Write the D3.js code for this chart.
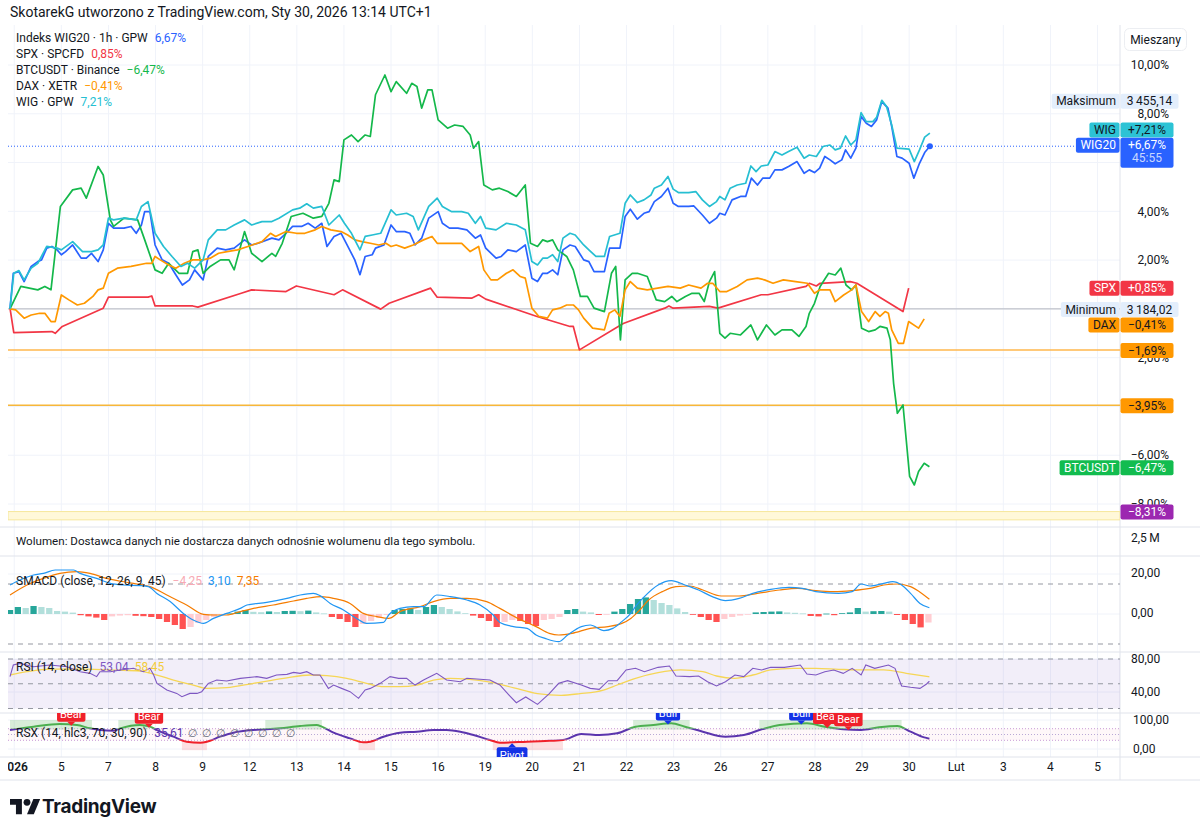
<!DOCTYPE html>
<html lang="pl">
<head>
<meta charset="UTF-8">
<title>WIG20 porównanie</title>
<script src="https://cdn.jsdelivr.net/npm/d3@7/dist/d3.min.js"></script>
<style>
    *{ margin:0; padding:0; }
    body{ background:#fff; width:1200px; height:834px; overflow:hidden; }
    svg{ display:block; font-family:Roboto, "Noto Sans", "DejaVu Sans", sans-serif; }
</style>
</head>
<body>
<script>
// ---- data (t = trading sessions from first bar, v = % change) ----
const dayLabels = ['2026','5','7','8','9','12','13','14','15','16','19','20','21','22','23','26','27','28','29','30','Lut','3','4','5'];

const wig20 = [[0,0],[0.07,1.46],[0.19,1.53],[0.3,1.12],[0.45,1.74],[0.59,1.94],[0.67,2.01],[0.78,2.49],[0.89,2.56],[1.0,2.42],[1.09,2.22],[1.18,2.35],[1.33,2.62],[1.51,2.08],[1.62,2.08],[1.73,2.28],[1.87,1.94],[1.98,2.42],[2.09,3.51],[2.2,3.31],[2.42,3.31],[2.57,3.38],[2.68,3.1],[2.79,3.44],[2.86,3.99],[2.97,3.99],[3.08,2.62],[3.23,2.01],[3.37,1.87],[3.52,1.4],[3.66,0.98],[3.81,1.19],[3.92,1.6],[4.1,1.19],[4.21,2.15],[4.4,2.49],[4.58,2.42],[4.76,2.49],[4.98,2.83],[5.13,2.62],[5.27,2.69],[5.56,2.9],[5.71,2.83],[5.86,3.1],[6.0,3.38],[6.19,3.38],[6.33,3.51],[6.48,3.31],[6.62,3.51],[6.73,2.56],[6.88,2.97],[7.03,3.1],[7.14,2.69],[7.32,2.01],[7.43,1.4],[7.54,2.15],[7.69,2.22],[7.76,2.49],[7.94,2.62],[8.09,3.44],[8.2,3.17],[8.38,3.17],[8.49,3.1],[8.6,2.62],[8.74,2.9],[8.89,3.72],[9.09,3.99],[9.18,3.51],[9.33,3.31],[9.51,3.31],[9.7,3.24],[9.88,2.9],[9.99,3.03],[10.1,2.49],[10.32,2.08],[10.43,2.15],[10.57,2.42],[10.75,2.35],[10.94,2.62],[11.08,1.26],[11.2,1.12],[11.31,1.46],[11.41,1.46],[11.52,1.6],[11.63,1.4],[11.74,2.42],[11.89,2.62],[12.0,2.56],[12.18,2.01],[12.29,1.94],[12.4,1.53],[12.62,1.53],[12.73,2.49],[12.95,2.49],[13.06,3.79],[13.17,4.09],[13.32,3.68],[13.46,3.92],[13.57,3.99],[13.68,4.4],[13.83,4.61],[13.97,4.95],[14.08,4.33],[14.19,4.2],[14.41,4.2],[14.52,4.22],[14.7,3.85],[14.85,3.51],[15.0,3.72],[15.07,3.92],[15.18,3.85],[15.33,4.47],[15.51,4.61],[15.62,4.61],[15.74,5.36],[15.87,5.08],[15.98,5.36],[16.13,5.36],[16.24,5.7],[16.39,5.7],[16.53,5.84],[16.71,6.04],[16.86,5.56],[16.97,5.7],[17.08,5.59],[17.19,5.77],[17.3,6.25],[17.41,6.11],[17.52,5.95],[17.66,6.11],[17.74,6.52],[17.85,6.18],[17.96,6.59],[18.07,7.89],[18.18,7.61],[18.29,7.48],[18.4,7.75],[18.51,8.5],[18.64,8.23],[18.72,7.48],[18.83,6.25],[18.94,6.18],[19.09,5.97],[19.19,5.36],[19.31,5.97],[19.42,6.41],[19.53,6.67]];

const wig = [[0,0],[0.08,1.46],[0.19,1.57],[0.3,1.19],[0.45,1.67],[0.59,1.87],[0.78,2.56],[1.0,2.49],[1.09,2.42],[1.33,2.76],[1.54,2.35],[1.73,2.35],[1.87,2.42],[1.98,2.62],[2.09,3.72],[2.2,3.65],[2.42,3.72],[2.68,3.65],[2.79,4.2],[2.93,4.4],[3.08,3.1],[3.26,2.56],[3.44,2.15],[3.63,1.74],[3.77,1.87],[3.92,1.67],[4.1,2.01],[4.21,2.83],[4.4,3.24],[4.58,3.24],[4.76,3.44],[4.98,3.65],[5.13,3.44],[5.35,3.58],[5.56,3.58],[5.71,3.72],[6.0,4.06],[6.15,4.13],[6.3,4.31],[6.44,4.13],[6.62,4.2],[6.77,3.44],[6.99,3.85],[7.1,3.51],[7.25,3.1],[7.43,2.42],[7.54,2.97],[7.69,3.03],[7.87,3.1],[8.09,4.06],[8.2,3.85],[8.42,3.92],[8.56,3.79],[8.67,3.24],[8.89,4.2],[9.07,4.54],[9.18,4.2],[9.37,3.99],[9.59,3.99],[9.73,3.92],[9.88,3.51],[9.99,3.79],[10.1,3.31],[10.32,3.24],[10.54,3.51],[10.75,3.44],[10.94,3.24],[11.08,1.94],[11.2,1.8],[11.31,2.08],[11.41,2.08],[11.52,2.22],[11.63,1.94],[11.74,2.9],[11.89,3.1],[12.0,3.03],[12.18,2.62],[12.29,2.42],[12.44,2.15],[12.62,2.15],[12.73,2.97],[12.95,3.1],[13.06,4.33],[13.17,4.67],[13.32,4.36],[13.46,4.47],[13.61,4.67],[13.68,4.95],[13.83,5.08],[13.97,5.43],[14.08,4.91],[14.19,4.77],[14.41,4.77],[14.56,4.81],[14.7,4.47],[14.85,4.2],[15.0,4.4],[15.07,4.61],[15.18,4.47],[15.29,4.95],[15.44,5.08],[15.62,5.15],[15.73,5.86],[15.84,5.63],[15.95,5.86],[16.09,5.9],[16.24,6.45],[16.39,6.31],[16.53,6.45],[16.71,6.63],[16.86,6.18],[16.97,6.31],[17.12,6.25],[17.26,6.66],[17.41,6.72],[17.52,6.52],[17.63,6.59],[17.74,7.09],[17.85,6.72],[17.96,6.93],[18.07,8.05],[18.18,7.68],[18.32,7.68],[18.4,7.86],[18.51,8.55],[18.61,8.3],[18.72,7.54],[18.83,6.59],[19.09,6.55],[19.2,6.04],[19.31,6.52],[19.42,7.04],[19.53,7.21]];

const btc = [[0,0],[0.23,0.92],[0.59,0.78],[0.74,0.92],[0.87,0.78],[1.07,4.2],[1.33,4.88],[1.51,4.95],[1.62,4.54],[1.87,5.84],[1.98,5.49],[2.13,3.65],[2.2,3.38],[2.42,3.72],[2.71,3.65],[2.86,2.83],[3.08,1.6],[3.23,1.46],[3.37,1.87],[3.59,1.46],[3.77,1.46],[3.88,2.35],[3.99,2.42],[4.1,1.46],[4.25,1.74],[4.47,2.01],[4.65,2.01],[4.76,1.6],[4.98,3.17],[5.13,2.28],[5.35,1.94],[5.56,2.28],[5.64,2.15],[5.78,2.69],[5.97,3.79],[6.22,3.92],[6.44,3.72],[6.62,3.79],[6.77,4.33],[6.88,5.29],[6.99,5.22],[7.09,6.93],[7.25,7.13],[7.39,6.86],[7.54,7.13],[7.65,7.07],[7.76,8.78],[7.96,9.59],[8.09,8.91],[8.2,9.32],[8.42,8.84],[8.53,9.25],[8.64,9.12],[8.74,8.23],[8.87,8.98],[8.96,8.98],[9.09,7.75],[9.29,7.41],[9.44,7.54],[9.62,7.48],[9.77,7.13],[9.84,6.59],[9.95,6.86],[10.06,5.08],[10.24,4.88],[10.39,4.95],[10.57,4.81],[10.75,4.61],[10.94,5.08],[11.05,2.69],[11.2,2.56],[11.31,2.83],[11.41,2.76],[11.52,2.83],[11.63,2.42],[11.82,2.15],[11.96,1.6],[12.11,0.51],[12.26,0.51],[12.4,0.03],[12.62,-0.11],[12.77,1.46],[12.86,1.74],[12.96,-1.27],[13.06,1.19],[13.21,1.46],[13.32,1.46],[13.53,1.33],[13.72,0.37],[13.9,0.3],[14.05,0.51],[14.16,0.3],[14.34,0.51],[14.48,0.64],[14.63,0.64],[14.74,0.3],[14.85,1.12],[14.96,1.53],[15.07,-1.0],[15.18,-1.2],[15.29,-1.0],[15.51,-1.07],[15.73,-0.66],[15.87,-1.27],[16.06,-0.66],[16.24,-1.07],[16.39,-0.86],[16.6,-0.86],[16.75,-1.13],[16.9,-0.72],[16.97,-0.18],[17.08,0.23],[17.2,0.92],[17.38,1.46],[17.52,1.39],[17.64,1.67],[17.75,0.98],[17.87,0.78],[17.96,0.98],[18.08,-0.79],[18.23,-0.93],[18.37,-0.86],[18.47,-0.72],[18.62,-0.79],[18.69,-1.27],[18.76,-3.05],[18.84,-4.28],[18.96,-3.94],[19.1,-6.87],[19.2,-7.22],[19.29,-6.67],[19.41,-6.33],[19.52,-6.47]];

const dax = [[0,0],[0.12,-0.04],[0.3,-0.38],[0.45,-0.25],[0.63,-0.18],[0.74,-0.18],[0.87,-0.52],[0.96,-0.52],[1.09,0.57],[1.25,0.37],[1.43,0.16],[1.58,0.23],[1.76,0.51],[1.87,0.78],[1.98,0.85],[2.09,1.46],[2.28,1.67],[2.57,1.74],[2.9,1.87],[3.01,1.87],[3.08,2.15],[3.19,2.01],[3.37,1.8],[3.52,1.67],[3.7,1.87],[3.88,2.01],[4.1,2.01],[4.25,2.08],[4.43,2.28],[4.61,2.35],[4.83,2.42],[5.05,2.56],[5.35,2.76],[5.53,3.1],[5.64,2.97],[5.86,3.17],[6.08,3.1],[6.26,3.1],[6.48,3.24],[6.62,3.38],[6.81,3.24],[7.03,3.17],[7.17,3.03],[7.32,2.83],[7.47,2.76],[7.65,2.69],[7.83,2.62],[7.98,2.69],[8.09,2.56],[8.2,2.62],[8.38,2.49],[8.56,2.62],[8.78,2.83],[8.96,2.97],[9.07,2.69],[9.59,2.69],[9.77,2.35],[9.95,2.56],[10.06,1.6],[10.21,1.19],[10.35,1.19],[10.54,1.46],[10.68,1.6],[10.83,1.33],[10.94,1.26],[11.08,0.03],[11.23,-0.31],[11.41,-0.38],[11.52,-0.04],[11.67,0.03],[11.82,0.16],[11.96,0.16],[12.07,-0.04],[12.18,-0.38],[12.37,-0.79],[12.62,-0.86],[12.72,-0.18],[12.84,-0.04],[12.95,-0.31],[13.06,0.78],[13.17,1.12],[13.32,0.85],[13.53,0.78],[13.97,0.92],[14.23,0.85],[14.41,0.98],[14.67,0.85],[14.81,1.05],[14.92,1.05],[15.07,0.71],[15.22,0.71],[15.44,0.92],[15.65,1.19],[15.87,1.26],[16.02,1.19],[16.2,1.05],[16.42,1.19],[16.68,1.12],[16.93,1.05],[17.08,0.64],[17.19,0.78],[17.41,0.78],[17.52,0.3],[17.7,0.57],[17.87,0.78],[17.96,0.98],[18.08,-0.11],[18.23,-0.52],[18.37,-0.11],[18.47,-0.31],[18.58,-0.11],[18.65,-0.18],[18.72,-0.86],[18.86,-1.41],[18.97,-1.41],[19.08,-0.52],[19.29,-0.79],[19.41,-0.41]];

const spx = [[0,0.03],[0.08,-0.97],[0.89,-0.93],[0.96,-1.0],[1.11,-0.72],[1.98,0.03],[2.09,0.48],[2.93,0.48],[3.01,0.53],[3.08,0.12],[3.88,0.12],[3.99,0.07],[4.91,0.64],[5.13,0.78],[5.86,0.71],[6.08,0.94],[6.88,0.58],[7.06,0.78],[7.87,-0.01],[8.05,0.23],[8.93,0.85],[9.07,0.48],[9.8,0.44],[9.95,0.58],[10.1,0.4],[11.19,-0.31],[11.89,-0.72],[11.96,-0.72],[12.09,-1.68],[13.02,-0.6],[13.9,0.03],[13.99,0.12],[14.08,0.03],[14.85,0.1],[15.03,0.03],[15.95,0.58],[16.09,0.58],[16.9,0.92],[16.97,1.05],[17.12,0.94],[17.2,1.05],[17.84,1.12],[17.98,1.05],[18.96,-0.11],[19.08,0.85]];

const lastValues = { WIG20: 6.67, SPX: 0.85, BTCUSDT: -6.47, DAX: -0.41, WIG: 7.21 };
const priceMax = 3455.14, priceMin = 3184.02, priceBase = 3184.02;
const levelValues = [-1.69, -3.95];
const bandRange = [-8.31, -8.65];
const countdown = '45:55';

// SMACD (close, 12, 26, 9, 45)
const macdLine = [[0,14.5],[0.21,17],[0.5,19.5],[0.71,20.3],[0.96,22],[1.35,22],[1.49,20.3],[1.84,17.8],[2.13,15.3],[2.41,14.5],[2.76,14.2],[2.94,13.7],[3.12,10.3],[3.4,6.2],[3.68,0.3],[3.89,-3],[4.11,-4.7],[4.32,-2.2],[4.6,0.3],[4.89,2.8],[5.03,4.5],[5.45,5.8],[5.88,7.8],[6.16,9.5],[6.44,10.3],[6.58,9.2],[6.8,5.3],[7.08,2],[7.36,-2.2],[7.57,-4.7],[7.93,-4.2],[8.04,-0.5],[8.28,2.8],[8.57,3.7],[8.78,3.7],[9.06,9.5],[9.35,8.7],[9.7,7],[9.98,4.5],[10.26,-0.5],[10.4,-4.2],[10.69,-6.3],[10.98,-7.2],[11.17,-10.5],[11.36,-12.2],[11.65,-13.8],[11.84,-10.5],[12.13,-6.3],[12.32,-5.5],[12.61,-8.3],[12.8,-7.2],[12.99,-3.8],[13.18,0.3],[13.28,3.7],[13.47,8.7],[13.76,14.5],[14.04,16.7],[14.33,14.5],[14.62,12],[14.91,8.7],[15.19,6.7],[15.48,7.8],[15.77,10.3],[16.15,12.3],[16.54,13.3],[16.82,12.8],[17.11,11.2],[17.59,10.3],[17.88,11.2],[18.07,15],[18.26,14],[18.55,15.3],[18.74,16.2],[18.93,14.5],[19.12,10.3],[19.32,5.3],[19.52,3.1]];
const signalLine = [[0,9.5],[0.36,14.5],[0.71,17.8],[1.06,20.3],[1.42,21.2],[1.7,20.3],[2.05,17.8],[2.62,15.3],[2.97,13.7],[3.33,9.5],[3.75,4.5],[4.11,-0.2],[4.32,-0.5],[4.6,-0.5],[4.89,1.2],[5.17,2.8],[5.59,4.5],[6.02,6.5],[6.3,7.8],[6.62,8.7],[6.87,7.8],[7.22,5.3],[7.5,0.3],[7.79,-1.3],[8.04,-2.2],[8.28,1.2],[8.71,3.7],[8.99,6.2],[9.35,7.8],[9.7,7.8],[10.12,6.2],[10.4,2.8],[10.78,-2.2],[11.17,-6.3],[11.45,-9.7],[11.65,-10.5],[11.93,-9.7],[12.32,-7.2],[12.7,-6.3],[12.99,-4.7],[13.18,-2.2],[13.37,2],[13.56,7],[13.85,11.2],[14.14,13.7],[14.43,14],[14.71,12],[15.1,9],[15.48,9],[15.87,10.3],[16.34,12],[16.73,12.8],[17.11,11.7],[17.49,11.2],[17.88,11.7],[18.26,12.8],[18.55,14.5],[18.84,15],[19.12,13.7],[19.36,10.3],[19.52,7.35]];
// histogram, six bars per session
const histValues = [
  2,3.5,3,4,3.5,3,  1.5,1.2,0.7,-0.6,-1.2,-1.8,  -3,-1.2,-0.8,-0.6,-0.9,-1.1,  -1.5,-2.5,-4,-5.5,-7.5,-6.5,
  -4.5,-3,-1.5,-0.4,0.3,1.2,  2,1.1,0.9,1.3,1,1.5,  1.6,1.4,1.7,0.8,0.3,-1.5,  -2.5,-4,-6.5,-5,-3.5,-2,
  -0.5,2,2.5,2.8,2,3.5,  4.5,3.5,2.5,1.3,0.4,-0.8,  -2,-3.5,-6.5,-4,-3,-3.5,  -5,-6,-3,-2.5,-1.5,2,
  2.5,1.2,0.8,-0.5,-0.3,1.2,  2.5,5,7.5,8.3,7,5.5,  4.5,2.8,1,-0.3,-1.5,-3,  -4,-2.5,-1.5,-0.8,-0.3,0.8,
  1,1.2,1.3,0.8,0.6,0.3,  -1,-1.2,0.2,-0.6,0.4,0.8,  3,1.2,1.4,1.5,1.2,-0.5,  -3,-5,-6.7,-4.25
];
const histPerDay = 6;
const smacdLevels = [15, -15];
const smacdLast = { hist: -4.25, macd: 3.10, signal: 7.35 };

// RSI (14, close)
const rsiLine = [[0,58.6],[0.07,72.7],[0.21,74.7],[0.5,70.7],[0.85,72.7],[1.21,70.7],[1.49,64.6],[1.7,62.6],[1.84,58.6],[1.91,64.6],[2.13,64.6],[2.34,66.6],[2.62,68.7],[2.83,64.6],[2.97,68.7],[3.05,60.6],[3.12,50.5],[3.33,42.4],[3.54,38.3],[3.65,34.3],[3.82,38.3],[3.97,38.3],[4.07,40.4],[4.21,50.5],[4.39,54.5],[4.6,53.3],[4.89,56.5],[5.24,58.6],[5.45,56.5],[5.66,60.6],[5.88,61.4],[6.02,63.8],[6.16,62.6],[6.3,64.6],[6.44,60.6],[6.58,60.6],[6.76,44.4],[6.87,48.4],[7.04,44.4],[7.22,40.4],[7.4,32.3],[7.54,42.4],[7.65,44.4],[7.86,50.5],[8.07,58.6],[8.25,56.5],[8.42,56.5],[8.6,48.4],[8.78,54.5],[8.99,60.6],[9.06,62.6],[9.27,54.5],[9.56,52.5],[9.7,56.6],[10.19,54.5],[10.4,48.5],[10.6,36],[10.75,27],[10.95,34],[11.2,25],[11.45,38],[11.65,50.5],[11.84,53.7],[12.13,48.5],[12.32,44.4],[12.51,43.2],[12.7,53.7],[12.89,53.7],[13.08,66.7],[13.28,68.7],[13.47,64.6],[13.76,69.9],[14.0,71.5],[14.14,59.4],[14.43,58.6],[14.62,59.4],[14.81,52.5],[15.0,47.3],[15.19,52.5],[15.39,60.6],[15.58,58.6],[15.77,68.7],[15.96,66.7],[16.15,69.9],[16.44,69.9],[16.78,72.7],[16.92,61.8],[17.11,60.6],[17.3,64.6],[17.49,66.7],[17.69,62.6],[17.88,68.7],[18.07,60.6],[18.17,72.7],[18.36,68.7],[18.65,72.7],[18.79,68.7],[18.93,47.3],[19.12,45.7],[19.32,44.4],[19.46,49.7],[19.52,53.04]];
const rsiMa = [[0,60.6],[0.36,64.6],[0.85,67.8],[1.56,67.8],[2.27,66.6],[2.76,65.4],[3.12,60.6],[3.47,54.5],[3.89,48.4],[4.18,44.4],[4.6,45.2],[5.17,50.5],[5.81,56.5],[6.37,60.6],[6.73,59.8],[7.15,56.5],[7.57,50.5],[7.93,46.4],[8.28,46.4],[8.64,48.4],[8.99,54.5],[9.34,56.5],[9.7,55.7],[10.2,52],[10.7,45],[11.2,38],[11.7,36],[12.1,38],[12.6,42.4],[12.89,48.5],[13.28,56.6],[13.76,63.4],[14.24,66.7],[14.71,64.6],[15.0,59.4],[15.39,56.6],[15.77,60.6],[16.15,66.7],[16.63,68.7],[17.11,68.7],[17.59,67.5],[18.07,66.7],[18.55,66.7],[19.03,62.6],[19.52,58.45]];
const rsiLevels = [80, 50, 20];
const rsiLast = { rsi: 53.04, ma: 58.45 };

// RSX (14, hlc3, 70, 30, 90)
const rsxLine = [[0,65.5],[0.5,77],[1.06,86.2],[1.42,82.7],[1.7,71.2],[1.91,65.5],[2.2,63.2],[2.34,71.2],[2.76,82.7],[2.97,77],[3.19,59.7],[3.47,42.5],[3.75,25.2],[4.04,21.8],[4.18,25.2],[4.46,42.5],[4.74,56.3],[5.17,65.5],[5.45,67.8],[5.73,71.2],[6.16,79.3],[6.51,82.7],[6.62,77],[6.87,56.3],[7.22,36.7],[7.5,23],[7.65,25.2],[7.93,42.5],[8.28,56.3],[8.64,59.7],[8.99,65.5],[9.27,65.5],[9.56,59.7],[9.84,48.2],[10.19,31],[10.4,21.8],[10.98,25.2],[11.36,27.5],[11.74,31],[12.13,51.7],[12.51,48.2],[12.89,54],[13.28,77],[13.66,82.7],[14.04,88.5],[14.33,77],[14.71,59.7],[15.19,42.5],[15.58,48.2],[15.96,67.8],[16.34,82.7],[16.92,88.5],[17.3,77],[17.69,67.8],[18.07,65.5],[18.45,74.7],[18.84,79.3],[19.12,59.7],[19.41,40],[19.52,35.61]];
const rsxLevels = [70, 50, 30];
const rsxUpZones = [[0,1.74],[2.30,2.94],[5.42,6.62],[13.23,14.43],[15.91,18.93]];
const rsxDownZones = [[3.65,4.18],[7.4,7.75],[10.25,11.74]];
const rsxSignals = [
  { t:1.30, v:84, text:'Bear', side:'top' },
  { t:2.95, v:77, text:'Bear', side:'top' },
  { t:10.66, v:23, text:'Pivot', side:'bottom' },
  { t:13.97, v:88, text:'Bull', side:'top' },
  { t:16.80, v:88, text:'Bull', side:'top' },
  { t:17.35, v:76, text:'Bear', side:'top' },
  { t:17.80, v:68, text:'Bear', side:'top' }
];
const rsxLast = 35.61;
const naCount = 8;

// ---- layout ----
const W = 1200, H = 834;
const plotL = 8, plotR = 1120;
const pane = { main:[25,527], vol:[527,556], smacd:[556,652], rsi:[652,713], rsx:[713,757], axis:[757,780] };
const tickShift = 0.09;
const ink = '#131722';

const svg = d3.select('body').append('svg').attr('width', W).attr('height', H);
const defs = svg.append('defs');

const x = d3.scaleLinear().domain([0, 1]).range([10, 57.1]);
const yMain = d3.scaleLinear().domain([10, -8]).range([65, 504]);
const ySm = d3.scaleLinear().domain([20, 0]).range([574, 614]);
const yRsi = d3.scaleLinear().domain([80, 40]).range([659, 692]);
const yRsx = d3.scaleLinear().domain([100, 0]).range([720, 749]);

function clip(id, x0, y0, x1, y1) {
    defs.append('clipPath').attr('id', id).append('rect')
        .attr('x', x0).attr('y', y0).attr('width', x1 - x0).attr('height', y1 - y0);
    return 'url(#' + id + ')';
}
function fmtNum(v) { return Math.abs(v).toFixed(2).replace('.', ','); }
function fmtPct(v, plus) { return (v < 0 ? '\u2212' : (plus && v > 0 ? '+' : '')) + fmtNum(v) + '%'; }
function fmtVal(v) { return (v < 0 ? '\u2212' : '') + fmtNum(v); }
function fmtPrice(v) {
    let p = v.toFixed(2).split('.');
    return p[0].replace(/\B(?=(\d{3})+(?!\d))/g, '\u2009') + ',' + p[1];
}
function pctOf(price) { return (price / priceBase - 1) * 100; }

// ---- grid and pane frames ----
const grid = svg.append('g');
const dayTicks = d3.range(dayLabels.length).map(k => k + tickShift);
grid.selectAll('line.v').data(dayTicks).enter().append('line')
    .attr('x1', d => x(d)).attr('x2', d => x(d))
    .attr('y1', pane.main[0]).attr('y2', pane.rsx[1])
    .attr('stroke', '#f0f3fa');
grid.selectAll('line.h').data(d3.range(-8, 10.01, 2)).enter().append('line')
    .attr('x1', plotL).attr('x2', plotR)
    .attr('y1', d => yMain(d)).attr('y2', d => yMain(d))
    .attr('stroke', '#f0f3fa');
[ySm(20), ySm(0), yRsi(80), yRsi(40), yRsx(100), yRsx(0)].forEach(yy => {
    grid.append('line').attr('x1', plotL).attr('x2', plotR).attr('y1', yy).attr('y2', yy).attr('stroke', '#f0f3fa');
});

const frame = svg.append('g').attr('stroke', '#e0e3eb');
[pane.main[1], pane.vol[1], pane.smacd[1], pane.rsi[1], pane.rsx[1], pane.axis[1]].forEach(yy => {
    frame.append('line').attr('x1', 0).attr('x2', W).attr('y1', yy).attr('y2', yy);
});
frame.append('line').attr('x1', plotR).attr('x2', plotR).attr('y1', pane.main[0]).attr('y2', pane.axis[1]);

// ---- main pane ----
const gMain = svg.append('g').attr('clip-path', clip('cMain', plotL, pane.main[0], plotR, pane.main[1]));

gMain.append('rect')
    .attr('x', plotL).attr('width', plotR - plotL)
    .attr('y', yMain(bandRange[0])).attr('height', yMain(bandRange[1]) - yMain(bandRange[0]))
    .attr('fill', '#fff8d9').attr('stroke', '#f6e79c').attr('stroke-width', 1);

const levelColors = ['#ffb74d', '#f7b73a'];
levelValues.forEach((v, i) => {
    gMain.append('line').attr('x1', plotL).attr('x2', plotR)
        .attr('y1', yMain(v)).attr('y2', yMain(v))
        .attr('stroke', levelColors[i]).attr('stroke-width', 1.5);
});
gMain.append('line').attr('x1', plotL).attr('x2', plotR)
    .attr('y1', yMain(pctOf(priceMin))).attr('y2', yMain(pctOf(priceMin)))
    .attr('stroke', '#b2b5be').attr('stroke-width', 1);
gMain.append('line').attr('x1', plotL).attr('x2', plotR)
    .attr('y1', yMain(lastValues.WIG20)).attr('y2', yMain(lastValues.WIG20))
    .attr('stroke', '#2962ff').attr('stroke-width', 1).attr('stroke-dasharray', '1,2');

const series = [
    { name:'WIG20', data:wig20, color:'#2962ff' },
    { name:'SPX', data:spx, color:'#f23645' },
    { name:'BTCUSDT', data:btc, color:'#14b84b' },
    { name:'DAX', data:dax, color:'#ff9800' },
    { name:'WIG', data:wig, color:'#26bfd2' }
];
const mainLine = d3.line().x(d => x(d[0])).y(d => yMain(d[1]));
series.forEach(s => {
    gMain.append('path').attr('d', mainLine(s.data))
        .attr('fill', 'none').attr('stroke', s.color).attr('stroke-width', 1.7)
        .attr('stroke-linejoin', 'round');
});
let w20end = wig20[wig20.length - 1];
gMain.append('circle').attr('cx', x(w20end[0])).attr('cy', yMain(w20end[1])).attr('r', 3).attr('fill', '#2962ff');

// header + legend
svg.append('text').attr('x', 10).attr('y', 17).attr('font-size', 14).attr('fill', ink)
    .text('SkotarekG utworzono z TradingView.com, Sty 30, 2026 13:14 UTC+1');

const legendRows = [
    { label:'Indeks WIG20 \u00b7 1h \u00b7 GPW', v:lastValues.WIG20, color:'#2962ff' },
    { label:'SPX \u00b7 SPCFD', v:lastValues.SPX, color:'#f23645' },
    { label:'BTCUSDT \u00b7 Binance', v:lastValues.BTCUSDT, color:'#14b84b' },
    { label:'DAX \u00b7 XETR', v:lastValues.DAX, color:'#ff9800' },
    { label:'WIG \u00b7 GPW', v:lastValues.WIG, color:'#26bfd2' }
];
legendRows.forEach((r, i) => {
    let t = svg.append('text').attr('x', 16).attr('y', 42 + i * 16).attr('font-size', 12).attr('fill', ink);
    t.append('tspan').text(r.label);
    t.append('tspan').attr('dx', 7).attr('fill', r.color).text(fmtPct(r.v));
});

// ---- price boxes on the right axis ----
const boxes = [
    { name:'Maksimum', text:fmtPrice(priceMax), v:pctOf(priceMax), dy:0, bg:'#e3eefc', fg:ink, valW:58 },
    { name:'WIG', text:fmtPct(lastValues.WIG, true), v:lastValues.WIG, dy:-3, bg:'#2cc3d5', fg:ink },
    { name:'WIG20', text:fmtPct(lastValues.WIG20, true), sub:countdown, v:lastValues.WIG20, dy:-1, bg:'#2962ff', fg:'#fff' },
    { name:'SPX', text:fmtPct(lastValues.SPX, true), v:lastValues.SPX, dy:0, bg:'#f23645', fg:'#fff' },
    { name:'Minimum', text:fmtPrice(priceMin), v:pctOf(priceMin), dy:0.5, bg:'#e3eefc', fg:ink, valW:58 },
    { name:'DAX', text:fmtPct(lastValues.DAX, true), v:lastValues.DAX, dy:6, bg:'#ff9800', fg:ink },
    { name:null, text:fmtPct(levelValues[0]), v:levelValues[0], dy:0.5, bg:'#ff9800', fg:ink },
    { name:null, text:fmtPct(levelValues[1]), v:levelValues[1], dy:0.5, bg:'#ff9800', fg:ink },
    { name:'BTCUSDT', text:fmtPct(lastValues.BTCUSDT, true), v:lastValues.BTCUSDT, dy:1, bg:'#12bc4f', fg:'#fff' },
    { name:null, text:fmtPct(bandRange[0]), v:bandRange[0], dy:0.5, bg:'#9c27b0', fg:'#fff' }
];
boxes.forEach(b => {
    b.yc = yMain(b.v) + b.dy;
    b.top = b.yc - 7.5;
    b.bottom = b.top + (b.sub ? 30 : 15);
});

// main price axis (labels sitting under a box are hidden, like TradingView does)
const axisG = svg.append('g').attr('font-size', 12).attr('fill', ink);
const mainTicks = d3.range(-8, 10.01, 2).filter(v => {
    let yy = yMain(v);
    return !boxes.some(b => yy >= b.top && yy <= b.bottom - 2);
});
axisG.selectAll('text.m').data(mainTicks).enter().append('text')
    .attr('x', 1169).attr('y', d => yMain(d)).attr('dy', '0.35em').attr('text-anchor', 'end')
    .text(d => fmtPct(d));

const modeBox = svg.append('g');
modeBox.append('rect').attr('x', 1124.5).attr('y', 28.5).attr('width', 62).attr('height', 22).attr('rx', 5)
    .attr('fill', '#fff').attr('stroke', '#eceef2');
modeBox.append('text').attr('x', 1155.5).attr('y', 39.5).attr('dy', '0.35em').attr('text-anchor', 'middle')
    .attr('font-size', 12).attr('fill', ink).text('Mieszany');

const boxG = svg.append('g').attr('font-size', 12);
boxes.forEach(b => {
    let yc = b.yc;
    let vw = b.valW || 53;
    boxG.append('rect').attr('x', plotR + 0.5).attr('y', b.top).attr('width', vw).attr('height', b.bottom - b.top)
        .attr('rx', 2).attr('fill', b.bg);
    boxG.append('text').attr('x', plotR + 0.5 + vw / 2).attr('y', yc).attr('dy', '0.35em')
        .attr('text-anchor', 'middle').attr('fill', b.fg).text(b.text);
    if (b.sub) {
        boxG.append('text').attr('x', plotR + 0.5 + vw / 2).attr('y', yc + 13).attr('dy', '0.35em')
            .attr('text-anchor', 'middle').attr('fill', 'rgba(255,255,255,0.75)').text(b.sub);
    }
    if (b.name) {
        let t = boxG.append('text').attr('y', yc).attr('dy', '0.35em').attr('text-anchor', 'end')
            .attr('x', plotR - 4).attr('fill', b.fg).text(b.name);
        let tw = t.node().getComputedTextLength();
        boxG.insert('rect', function () { return t.node(); })
            .attr('x', plotR - tw - 8.5).attr('y', yc - 7.5).attr('width', tw + 8).attr('height', 15)
            .attr('rx', 2).attr('fill', b.bg);
    }
});

// ---- volume pane ----
svg.append('text').attr('x', 16).attr('y', 545).attr('font-size', 11.6).attr('fill', ink)
    .text('Wolumen: Dostawca danych nie dostarcza danych odno\u015bnie wolumenu dla tego symbolu.');
svg.append('text').attr('x', 1131).attr('y', 538).attr('dy', '0.35em').attr('font-size', 12).attr('fill', ink).text('2,5\u2009M');

// ---- SMACD pane ----
const gSm = svg.append('g').attr('clip-path', clip('cSm', plotL, pane.smacd[0], plotR, pane.smacd[1]));
smacdLevels.forEach(v => {
    gSm.append('line').attr('x1', plotL).attr('x2', plotR).attr('y1', ySm(v)).attr('y2', ySm(v))
        .attr('stroke', '#9598a1').attr('stroke-dasharray', '5,5');
});
function histColor(v, i) {
    let prev = i > 0 ? histValues[i - 1] : v;
    if (v >= 0) return v >= prev ? '#26a69a' : '#b2dfdb';
    return v <= prev ? '#ff5252' : '#ffcdd2';
}
let barW = (x(1) - x(0)) / histPerDay - 1.6;
gSm.selectAll('rect.h').data(histValues).enter().append('rect')
    .attr('x', (d, i) => x(i / histPerDay) - barW / 2)
    .attr('width', barW)
    .attr('y', d => Math.min(ySm(d), ySm(0)))
    .attr('height', d => Math.max(0.8, Math.abs(ySm(d) - ySm(0))))
    .attr('fill', (d, i) => histColor(d, i));
const smLine = d3.line().x(d => x(d[0])).y(d => ySm(d[1])).curve(d3.curveMonotoneX);
gSm.append('path').attr('d', smLine(signalLine)).attr('fill', 'none').attr('stroke', '#f57c00').attr('stroke-width', 1.2);
gSm.append('path').attr('d', smLine(macdLine)).attr('fill', 'none').attr('stroke', '#2196f3').attr('stroke-width', 1.2);

let smLeg = svg.append('text').attr('x', 16).attr('y', 585).attr('font-size', 12).attr('fill', ink);
smLeg.append('tspan').text('SMACD (close, 12, 26, 9, 45)');
smLeg.append('tspan').attr('dx', 7).attr('fill', '#f7a9b4').text(fmtVal(smacdLast.hist));
smLeg.append('tspan').attr('dx', 6).attr('fill', '#2196f3').text(fmtVal(smacdLast.macd));
smLeg.append('tspan').attr('dx', 6).attr('fill', '#f57c00').text(fmtVal(smacdLast.signal));
[20, 0].forEach(v => {
    axisG.append('text').attr('x', 1131).attr('y', ySm(v) - 1).attr('dy', '0.35em').text(fmtVal(v));
});

// ---- RSI pane ----
const gRsi = svg.append('g').attr('clip-path', clip('cRsi', plotL, pane.rsi[0], plotR, pane.rsi[1]));
gRsi.append('rect').attr('x', plotL).attr('width', plotR - plotL)
    .attr('y', yRsi(rsiLevels[0])).attr('height', yRsi(rsiLevels[2]) - yRsi(rsiLevels[0]))
    .attr('fill', 'rgba(126,87,194,0.1)');
rsiLevels.forEach(v => {
    gRsi.append('line').attr('x1', plotL).attr('x2', plotR).attr('y1', yRsi(v)).attr('y2', yRsi(v))
        .attr('stroke', '#9598a1').attr('stroke-dasharray', '5,5');
});
gRsi.append('path').attr('d', d3.line().x(d => x(d[0])).y(d => yRsi(d[1])).curve(d3.curveMonotoneX)(rsiMa))
    .attr('fill', 'none').attr('stroke', '#f6d656').attr('stroke-width', 1.3);
gRsi.append('path').attr('d', d3.line().x(d => x(d[0])).y(d => yRsi(d[1]))(rsiLine))
    .attr('fill', 'none').attr('stroke', '#7e57c2').attr('stroke-width', 1.1);
let rsiLeg = svg.append('text').attr('x', 16).attr('y', 671).attr('font-size', 12).attr('fill', ink);
rsiLeg.append('tspan').text('RSI (14, close)');
rsiLeg.append('tspan').attr('dx', 7).attr('fill', '#7e57c2').text(fmtVal(rsiLast.rsi));
rsiLeg.append('tspan').attr('dx', 6).attr('fill', '#f2cc3a').text(fmtVal(rsiLast.ma));
[80, 40].forEach(v => {
    axisG.append('text').attr('x', 1131).attr('y', yRsi(v)).attr('dy', '0.35em').text(fmtVal(v));
});

// ---- RSX pane ----
const gRsx = svg.append('g').attr('clip-path', clip('cRsx', plotL, pane.rsx[0], plotR, pane.rsx[1]));
gRsx.append('rect').attr('x', plotL).attr('width', plotR - plotL)
    .attr('y', yRsx(rsxLevels[0])).attr('height', yRsx(rsxLevels[2]) - yRsx(rsxLevels[0]))
    .attr('fill', 'rgba(233,30,99,0.035)');
gRsx.selectAll('rect.up').data(rsxUpZones).enter().append('rect')
    .attr('x', d => x(d[0])).attr('width', d => x(d[1]) - x(d[0]))
    .attr('y', yRsx(100)).attr('height', yRsx(67) - yRsx(100))
    .attr('fill', 'rgba(76,175,80,0.22)');
gRsx.selectAll('rect.dn').data(rsxDownZones).enter().append('rect')
    .attr('x', d => x(d[0])).attr('width', d => x(d[1]) - x(d[0]))
    .attr('y', yRsx(26)).attr('height', yRsx(-4) - yRsx(26))
    .attr('fill', 'rgba(242,54,69,0.16)');
rsxLevels.forEach(v => {
    gRsx.append('line').attr('x1', plotL).attr('x2', plotR).attr('y1', yRsx(v)).attr('y2', yRsx(v))
        .attr('stroke', v === 50 ? '#b9a9d6' : '#c99ad6').attr('stroke-dasharray', '1,2');
});
const rsxPath = d3.line().x(d => x(d[0])).y(d => yRsx(d[1])).curve(d3.curveMonotoneX)(rsxLine);
const rsxBands = [
    { id:'cRsxUp', y0:pane.rsx[0] - 10, y1:yRsx(70), color:'#4caf50' },
    { id:'cRsxMid', y0:yRsx(70), y1:yRsx(32), color:'#5b34ad' },
    { id:'cRsxDn', y0:yRsx(32), y1:pane.rsx[1] + 10, color:'#f0202a' }
];
rsxBands.forEach(b => {
    gRsx.append('g').attr('clip-path', clip(b.id, plotL, b.y0, plotR, b.y1))
        .append('path').attr('d', rsxPath).attr('fill', 'none')
        .attr('stroke', b.color).attr('stroke-width', 2);
});
rsxSignals.forEach(s => {
    let col = s.text === 'Bear' ? '#f0202a' : '#1332e6';
    let cx = x(s.t), tip = yRsx(s.v) + 1;
    let g = gRsx.append('g').attr('font-size', 11);
    let t = g.append('text').attr('x', cx).attr('text-anchor', 'middle').attr('fill', '#fff').text(s.text);
    let tw = t.node().getComputedTextLength() + 6;
    let top, tri;
    if (s.side === 'top') {
        top = tip - 4 - 15;
        tri = [[cx - 4, tip - 4], [cx + 4, tip - 4], [cx, tip]];
    } else {
        top = tip + 4;
        tri = [[cx - 4, tip + 4], [cx + 4, tip + 4], [cx, tip]];
    }
    t.attr('y', top + 11.5);
    g.insert('rect', 'text').attr('x', cx - tw / 2).attr('y', top).attr('width', tw).attr('height', 15)
        .attr('rx', 2).attr('fill', col);
    g.insert('path', 'text').attr('d', d3.line()(tri) + 'Z').attr('fill', col);
});
let rsxLeg = svg.append('text').attr('x', 16).attr('y', 737).attr('font-size', 12).attr('fill', ink);
rsxLeg.append('tspan').text('RSX (14, hlc3, 70, 30, 90)');
rsxLeg.append('tspan').attr('dx', 7).attr('fill', '#5b34ad').text(fmtVal(rsxLast));
let naStart = 16 + rsxLeg.node().getComputedTextLength() + 16;
svg.selectAll('text.na').data(d3.range(naCount)).enter().append('text')
    .attr('x', d => naStart + d * 14).attr('y', 737).attr('text-anchor', 'middle')
    .attr('font-size', 11).attr('fill', '#6a6d78').text('\u2205');
[100, 0].forEach(v => {
    axisG.append('text').attr('x', 1133).attr('y', yRsx(v)).attr('dy', '0.35em').text(fmtVal(v));
});

// ---- time axis ----
const gX = svg.append('g').attr('clip-path', clip('cX', plotL, pane.axis[0], plotR, pane.axis[1]))
    .attr('font-size', 12).attr('fill', ink);
gX.selectAll('text').data(dayLabels).enter().append('text')
    .attr('x', (d, i) => x(i + tickShift)).attr('y', 771).attr('text-anchor', 'middle')
    .attr('font-weight', (d, i) => i === 0 ? 600 : 400)
    .text(d => d);

// ---- logo ----
const logo = svg.append('g').attr('transform', 'translate(10,795.5) scale(0.85)').attr('fill', ink);
logo.append('path').attr('d', 'M14 22H7V11H0V4h14v18z');
logo.append('circle').attr('cx', 20).attr('cy', 8).attr('r', 4);
logo.append('path').attr('d', 'M28 22h-8l7.5-18h8L28 22z');
svg.append('text').attr('x', 42).attr('y', 813).attr('font-family', 'Inter, Roboto, sans-serif')
    .attr('font-size', 19).attr('font-weight', 700)
    .attr('fill', ink).attr('letter-spacing', -0.3).text('TradingView');
</script>
</body>
</html>
